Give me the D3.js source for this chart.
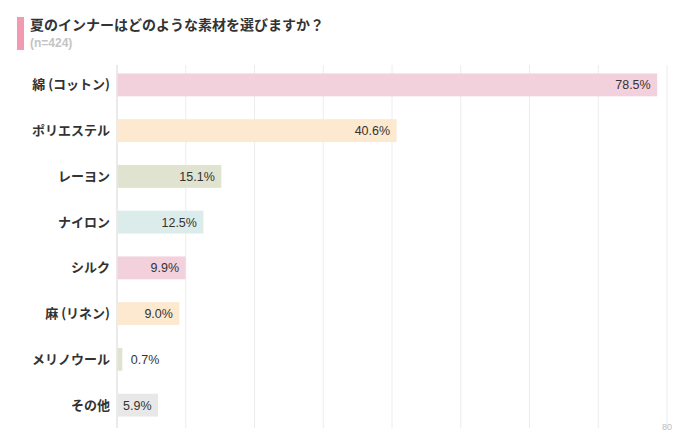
<!DOCTYPE html>
<html lang="ja">
<head>
<meta charset="utf-8">
<title>夏のインナー素材</title>
<script src="https://d3js.org/d3.v7.min.js"></script>
<style>
  body { margin: 0; background: #fff; font-family: "Noto Sans CJK JP", "Noto Sans", sans-serif; }
</style>
</head>
<body>
<div id="chart"></div>
<script>
// data
var categories = ["綿 (コットン)", "ポリエステル", "レーヨン", "ナイロン", "シルク", "麻 (リネン)", "メリノウール", "その他"];
var values = [78.5, 40.6, 15.1, 12.5, 9.9, 9.0, 0.7, 5.9];
var colors = ["#f2d1dc", "#fde9cf", "#dfe3cf", "#dbecea", "#f2d1dc", "#fde9cf", "#dfe3cf", "#e8e8e8"];
var tickValues = [0, 10, 20, 30, 40, 50, 60, 70, 80];

var W = 700, H = 437;
var margin = {top: 62, right: 33, bottom: 9, left: 117};

var svg = d3.select("#chart").append("svg")
    .attr("width", W).attr("height", H);

// title
svg.append("rect").attr("x", 17).attr("y", 17).attr("width", 7).attr("height", 33).attr("fill", "#f39ab3");
svg.append("text").attr("x", 30).attr("y", 30)
    .attr("font-size", 14).attr("font-weight", "bold").attr("fill", "#333")
    .text("夏のインナーはどのような素材を選びますか？");
svg.append("text").attr("x", 30).attr("y", 47)
    .attr("font-size", 12).attr("font-weight", "bold").attr("fill", "#c4c4c4")
    .attr("font-family", "'Liberation Sans', Arial, sans-serif")
    .text("(n=424)");

var g = svg.append("g").attr("transform", "translate(" + margin.left + "," + margin.top + ")");

var x = d3.scaleLinear().domain([0, 80]).range([0, 550]);
var y = d3.scaleBand().domain(categories).range([0, 366]).paddingInner(0.5).paddingOuter(0.25);

// grid lines
g.selectAll(".grid").data(tickValues).enter().append("line")
    .attr("x1", function(d) { return x(d); })
    .attr("x2", function(d) { return x(d); })
    .attr("y1", 3).attr("y2", 366)
    .attr("stroke", function(d) { return d === 0 ? "#d6d6d6" : "#ececec"; })
    .attr("stroke-width", 1);

// only the last tick label is shown
g.append("text").attr("x", x(80)).attr("y", 368)
    .attr("text-anchor", "middle").attr("font-size", 9).attr("fill", "#bbb")
    .attr("font-family", "'Liberation Sans', Arial, sans-serif")
    .text("80");

// bars
g.selectAll(".bar").data(values).enter().append("rect")
    .attr("x", x(0) + 0.5)
    .attr("y", function(d, i) { return y(categories[i]); })
    .attr("width", function(d) { return x(d) - x(0); })
    .attr("height", y.bandwidth())
    .attr("fill", function(d, i) { return colors[i]; });

// category labels
g.selectAll(".cat").data(categories).enter().append("text")
    .attr("x", -7)
    .attr("y", function(d) { return y(d) + y.bandwidth() / 2; })
    .attr("dy", "0.35em")
    .attr("text-anchor", "end")
    .attr("font-size", 13).attr("font-weight", "bold").attr("fill", "#333")
    .text(function(d) { return d; });

// value labels
g.selectAll(".val").data(values).enter().append("text")
    .attr("x", function(d) { return x(d) > 40 ? x(d) - 6 : x(d) + 9; })
    .attr("y", function(d, i) { return y(categories[i]) + y.bandwidth() / 2; })
    .attr("dy", "0.35em")
    .attr("text-anchor", function(d) { return x(d) > 40 ? "end" : "start"; })
    .attr("font-size", 12.5).attr("fill", "#333")
    .attr("font-family", "'Liberation Sans', Arial, sans-serif")
    .text(function(d) { return d.toFixed(1) + "%"; });
</script>
</body>
</html>
